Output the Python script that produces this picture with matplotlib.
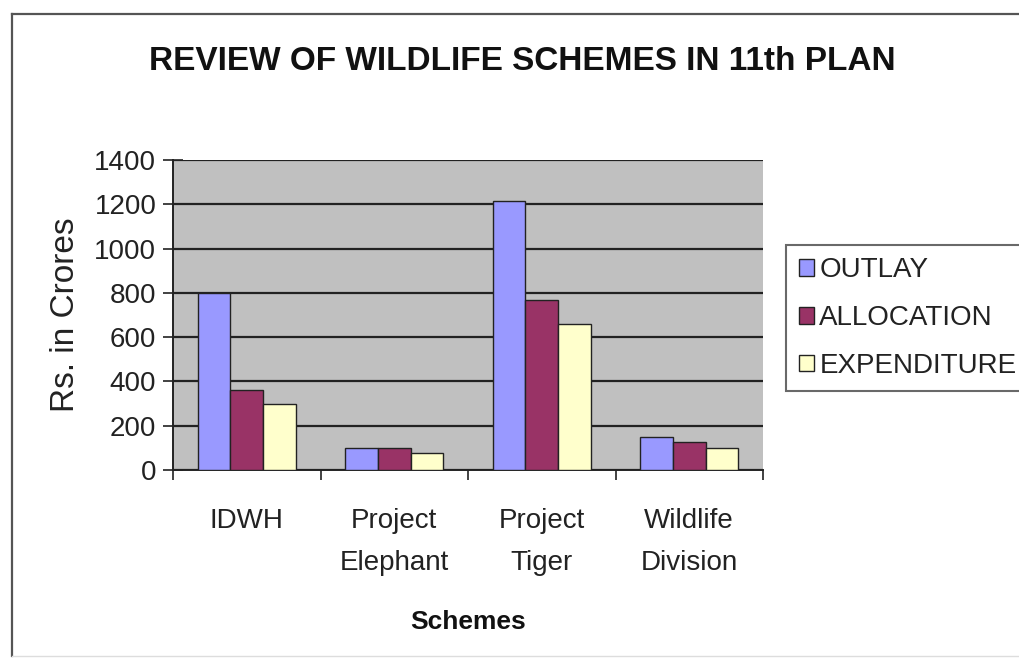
import matplotlib
matplotlib.use("Agg")
import matplotlib.pyplot as plt
from matplotlib import font_manager
from matplotlib.lines import Line2D
import numpy as np

categories = ["IDWH", "Project\nElephant", "Project\nTiger", "Wildlife\nDivision"]
series_names = ["OUTLAY", "ALLOCATION", "EXPENDITURE"]
outlay = [800, 100, 1216, 150]
allocation = [360, 100, 770, 125]
expenditure = [300, 75, 660, 100]
y_ticks = [0, 200, 400, 600, 800, 1000, 1200, 1400]

colors = ["#9999FF", "#993366", "#FFFFCC"]

available = {f.name for f in font_manager.fontManager.ttflist}
narrow = "Liberation Sans Narrow" if "Liberation Sans Narrow" in available else "Liberation Sans"
regular = "Liberation Sans" if "Liberation Sans" in available else "DejaVu Sans"

W, H = 1019, 664
fig = plt.figure(figsize=(W / 100, H / 100), dpi=100)
fig.patch.set_facecolor("white")

# outer chart border
fig.add_artist(Line2D([12 / W, 1.0], [1 - 14 / H, 1 - 14 / H], color="#555555", lw=1.6, transform=fig.transFigure))
fig.add_artist(Line2D([12 / W, 12 / W], [1 - 14 / H, 1 - 656 / H], color="#555555", lw=1.6, transform=fig.transFigure))
fig.add_artist(Line2D([12 / W, 1.0], [1 - 656 / H, 1 - 656 / H], color="#dddddd", lw=1.0, transform=fig.transFigure))

ax_l, ax_r, ax_t, ax_b = 173, 763, 160, 470
ax = fig.add_axes([ax_l / W, 1 - ax_b / H, (ax_r - ax_l) / W, (ax_b - ax_t) / H])
ax.set_facecolor("#C0C0C0")

x = np.arange(len(categories))
bw = 1 / 4.5
for i, (vals, c, name) in enumerate(zip([outlay, allocation, expenditure], colors, series_names)):
    ax.bar(x + (i - 1) * bw, vals, width=bw, color=c, edgecolor="#222222", linewidth=1.0, label=name, zorder=3)

ax.set_xlim(-0.5, len(categories) - 0.5)
ax.set_ylim(0, 1400)
ax.set_yticks(y_ticks)
ax.set_yticklabels([str(v) for v in y_ticks], fontfamily=narrow, fontsize=20, color="#222222")
ax.yaxis.grid(True, color="#222222", linewidth=1.6, zorder=1)
ax.set_axisbelow(True)
ax.tick_params(axis="y", direction="inout", length=14, width=1.2, pad=5, colors="#222222")

# category boundary ticks (major) and label ticks (minor)
ax.set_xticks(np.arange(-0.5, len(categories), 1.0))
ax.set_xticklabels([])
ax.set_xticks(x, minor=True)
ax.set_xticklabels(categories, minor=True, fontfamily=narrow, fontsize=20, color="#222222", linespacing=1.85, va="top")
ax.tick_params(axis="x", which="major", direction="out", length=7, width=1.2, colors="#222222")
ax.tick_params(axis="x", which="minor", length=0, pad=27)

for s in ["top", "right"]:
    ax.spines[s].set_visible(False)
for s in ["left", "bottom"]:
    ax.spines[s].set_color("#222222")
    ax.spines[s].set_linewidth(1.4)

fig.text(522 / W, 1 - 62 / H, "REVIEW OF WILDLIFE SCHEMES IN 11th PLAN", ha="center", va="center",
         fontfamily=narrow, fontweight="bold", fontsize=24, color="#111111")
fig.text(65 / W, 1 - 315 / H, "Rs. in Crores", rotation=90, ha="center", va="center",
         fontfamily=regular, fontsize=24, color="#222222")
fig.text(468 / W, 1 - 622 / H, "Schemes", ha="center", va="center",
         fontfamily=narrow, fontweight="bold", fontsize=19, color="#111111")

leg = fig.legend(loc="upper left", bbox_to_anchor=(786 / W, 1 - 245 / H), bbox_transform=fig.transFigure,
                 prop={"family": narrow, "size": 20}, handlelength=0.55, handleheight=0.55, handletextpad=0.2,
                 labelspacing=0.78, borderpad=0.45, borderaxespad=0, fancybox=False, frameon=True)
leg.get_frame().set_edgecolor("#444444")
leg.get_frame().set_linewidth(1.5)
for t in leg.get_texts():
    t.set_color("#222222")

fig.savefig("out.png", dpi=100)
